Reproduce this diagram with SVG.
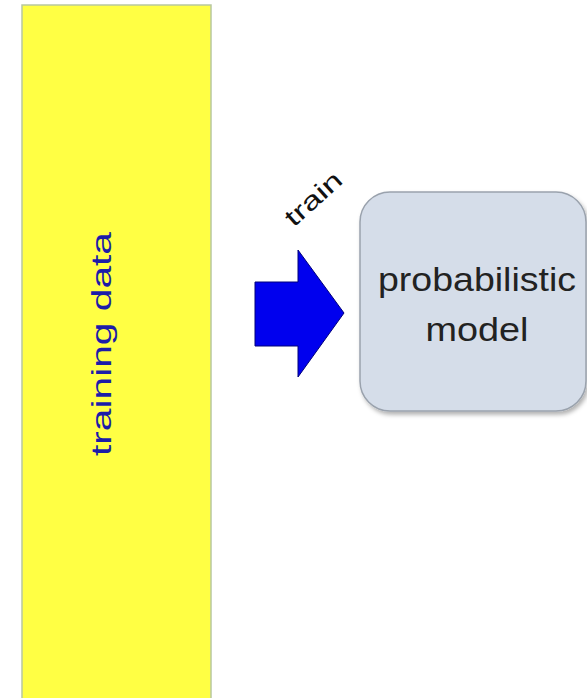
<svg xmlns="http://www.w3.org/2000/svg" width="587" height="698" viewBox="0 0 587 698">
<style>
.lbl{font-family:"Liberation Sans","DejaVu Sans",sans-serif;}
</style>
<defs>
<filter id="sh" x="-10%" y="-10%" width="130%" height="130%">
<feDropShadow dx="2" dy="3" stdDeviation="2" flood-color="#000" flood-opacity="0.3"/>
</filter>
</defs>
<rect width="587" height="698" fill="#ffffff"/>
<g id="training-data">
<rect x="22" y="5" width="189" height="700" fill="#ffff44" stroke="#b8c8a0" stroke-width="1.5"/>
<text class="lbl" transform="translate(111,344) rotate(-90)" text-anchor="middle" font-size="28" textLength="224" lengthAdjust="spacingAndGlyphs" fill="#1c1ca8">training data</text>
</g>
<g id="model">
<rect x="360" y="192" width="226" height="219" rx="30" ry="30" fill="#d5dde9" stroke="#9aa2ad" stroke-width="1.5" filter="url(#sh)"/>
<text class="lbl" x="477" y="291" text-anchor="middle" font-size="34" textLength="198" lengthAdjust="spacingAndGlyphs" fill="#222">probabilistic</text>
<text class="lbl" x="477" y="341" text-anchor="middle" font-size="34" textLength="103" lengthAdjust="spacingAndGlyphs" fill="#222">model</text>
</g>
<g id="connectors">
<polygon points="255,282 298,282 298,250 344,313 298,377 298,346 255,346" fill="#0000ee" stroke="#00007a" stroke-width="1"/>
<text class="lbl" transform="translate(319,205) rotate(-42)" text-anchor="middle" font-size="25" textLength="68" lengthAdjust="spacingAndGlyphs" fill="#111">train</text>
</g>
</svg>
